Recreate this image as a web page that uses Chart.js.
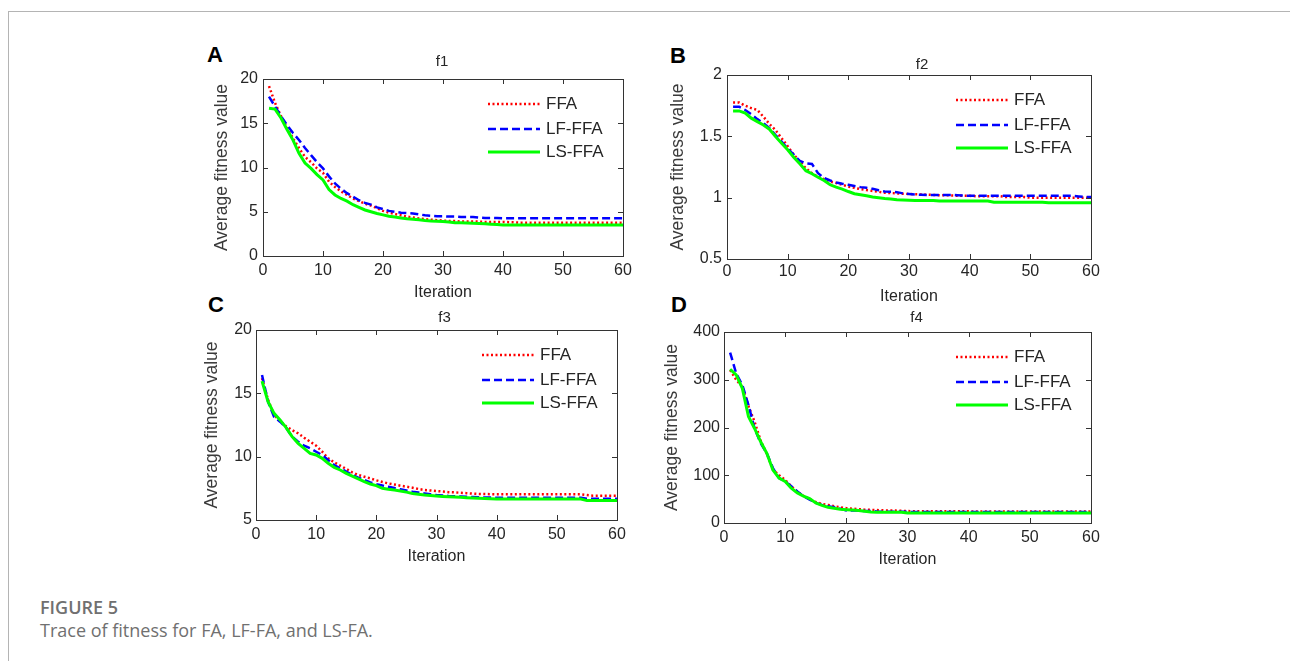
<!DOCTYPE html>
<html>
<head>
<meta charset="utf-8">
<script src="https://cdn.jsdelivr.net/npm/chart.js@4.4.1/dist/chart.umd.min.js"></script>
<style>
  body { margin: 0; background: #fff; }
  #page { position: relative; width: 1290px; height: 661px; overflow: hidden; background: #fff; }
  .frame { position: absolute; left: 8px; top: 11px; right: 0; bottom: 0; border-top: 1px solid #b4b4b4; border-left: 1px solid #b4b4b4; }
  canvas { position: absolute; }
  .letter { position: absolute; font: bold 22px 'Liberation Sans', Arial, sans-serif; line-height: 22px; color: #000; }
  .fig { position: absolute; left: 40px; top: 595px; font: 600 18px 'Open Sans', sans-serif; line-height: 24px; color: #707070; }
  .cap { position: absolute; left: 40px; top: 618px; font: 18px 'Open Sans', sans-serif; line-height: 24px; color: #707070; }
</style>
</head>
<body>
<div id="page">
  <div class="frame"></div>
  <div class="letter" style="left:207px;top:44px">A</div>
  <div class="letter" style="left:670px;top:45px">B</div>
  <div class="letter" style="left:208px;top:294px">C</div>
  <div class="letter" style="left:671px;top:294px">D</div>
  <canvas id="chartA"></canvas>
  <canvas id="chartB"></canvas>
  <canvas id="chartC"></canvas>
  <canvas id="chartD"></canvas>
  <div class="fig">FIGURE 5</div>
  <div class="cap">Trace of fitness for FA, LF-FA, and LS-FA.</div>
</div>
<script>
// iteration numbers 1..60 on the x axis
const iterations = Array.from({length: 60}, (_, i) => i + 1);
const seriesNames = ['FFA', 'LF-FFA', 'LS-FFA'];
const xTickValues = [0, 10, 20, 30, 40, 50, 60];

// f1
const f1FFA = [19.2, 17.3, 15.8, 14.5, 13.3, 12.2, 11.2, 10.6, 9.9, 9.4,
  8.4, 7.8, 7.3, 6.9, 6.5, 6.2, 5.9, 5.7, 5.4, 5.1,
  4.9, 4.75, 4.6, 4.45, 4.35, 4.25, 4.15, 4.1, 4.05, 4.0,
  3.95, 3.95, 3.9, 3.9, 3.9, 3.88, 3.85, 3.85, 3.85, 3.85,
  3.82, 3.8, 3.77, 3.77, 3.77, 3.77, 3.77, 3.77, 3.77, 3.77,
  3.77, 3.77, 3.77, 3.77, 3.77, 3.77, 3.77, 3.77, 3.77, 3.77];
const f1LF = [18.0, 16.9, 15.8, 14.8, 13.9, 13.1, 12.2, 11.4, 10.6, 9.9,
  9.0, 8.2, 7.6, 7.1, 6.7, 6.3, 6.0, 5.8, 5.5, 5.3,
  5.1, 5.0, 4.9, 4.85, 4.8, 4.7, 4.6, 4.55, 4.5, 4.5,
  4.45, 4.45, 4.4, 4.4, 4.4, 4.35, 4.3, 4.3, 4.28, 4.26,
  4.26, 4.26, 4.26, 4.26, 4.26, 4.26, 4.26, 4.26, 4.26, 4.26,
  4.26, 4.26, 4.26, 4.26, 4.26, 4.26, 4.26, 4.26, 4.26, 4.26];
const f1LS = [16.7, 16.6, 15.6, 14.3, 13.1, 11.6, 10.5, 9.9, 9.2, 8.6,
  7.5, 6.9, 6.5, 6.2, 5.8, 5.5, 5.2, 5.0, 4.8, 4.65,
  4.5, 4.4, 4.3, 4.2, 4.15, 4.1, 4.0, 3.95, 3.92, 3.9,
  3.85, 3.77, 3.75, 3.72, 3.7, 3.68, 3.65, 3.6, 3.55, 3.5,
  3.5, 3.5, 3.5, 3.5, 3.5, 3.5, 3.5, 3.5, 3.5, 3.5,
  3.5, 3.5, 3.5, 3.5, 3.5, 3.5, 3.5, 3.5, 3.5, 3.5];

// f2
const f2FFA = [1.775, 1.775, 1.75, 1.73, 1.715, 1.66, 1.60, 1.55, 1.485, 1.42,
  1.35, 1.295, 1.24, 1.2, 1.17, 1.15, 1.13, 1.12, 1.105, 1.09,
  1.08, 1.07, 1.062, 1.055, 1.048, 1.04, 1.038, 1.035, 1.032, 1.03,
  1.028, 1.026, 1.024, 1.022, 1.02, 1.02, 1.018, 1.016, 1.015, 1.015,
  1.012, 1.012, 1.012, 1.012, 1.012, 1.005, 1.005, 1.005, 1.005, 1.0,
  1.0, 1.0, 1.0, 1.0, 1.0, 1.0, 1.0, 1.0, 1.0, 1.0];
const f2LF = [1.742, 1.742, 1.715, 1.68, 1.64, 1.607, 1.566, 1.51, 1.458, 1.40,
  1.35, 1.30, 1.28, 1.275, 1.2, 1.16, 1.14, 1.124, 1.113, 1.105,
  1.095, 1.086, 1.08, 1.072, 1.06, 1.05, 1.048, 1.045, 1.035, 1.03,
  1.026, 1.024, 1.022, 1.022, 1.022, 1.022, 1.022, 1.02, 1.018, 1.015,
  1.015, 1.015, 1.015, 1.015, 1.015, 1.015, 1.015, 1.015, 1.015, 1.015,
  1.015, 1.015, 1.015, 1.015, 1.015, 1.015, 1.015, 1.01, 1.005, 1.005];
const f2LS = [1.707, 1.707, 1.69, 1.648, 1.62, 1.593, 1.558, 1.498, 1.444, 1.39,
  1.33, 1.276, 1.22, 1.195, 1.167, 1.14, 1.105, 1.086, 1.07, 1.05,
  1.032, 1.024, 1.015, 1.005, 1.0, 0.994, 0.99, 0.983, 0.98, 0.978,
  0.976, 0.976, 0.976, 0.976, 0.972, 0.972, 0.972, 0.972, 0.972, 0.972,
  0.972, 0.972, 0.972, 0.962, 0.962, 0.962, 0.962, 0.962, 0.962, 0.962,
  0.962, 0.962, 0.958, 0.958, 0.958, 0.958, 0.958, 0.958, 0.958, 0.958];

// f3
const f3FFA = [16.2, 14.5, 13.3, 12.8, 12.4, 12.1, 11.84, 11.5, 11.18, 10.87,
  10.39, 9.87, 9.55, 9.29, 9.03, 8.76, 8.55, 8.42, 8.29, 8.13,
  8.0, 7.89, 7.8, 7.71, 7.63, 7.55, 7.45, 7.37, 7.33, 7.29,
  7.25, 7.2, 7.18, 7.15, 7.12, 7.08, 7.06, 7.05, 7.04, 7.03,
  7.03, 7.03, 7.03, 7.03, 7.03, 7.03, 7.03, 7.03, 7.03, 7.03,
  7.03, 7.03, 7.03, 7.03, 6.97, 6.92, 6.92, 6.92, 6.92, 6.92];
const f3LF = [16.45, 14.34, 13.16, 12.76, 12.29, 11.58, 11.18, 10.87, 10.66, 10.39,
  10.13, 9.74, 9.34, 9.08, 8.82, 8.55, 8.34, 8.16, 7.97, 7.82,
  7.72, 7.63, 7.52, 7.42, 7.33, 7.24, 7.17, 7.1, 7.03, 6.97,
  6.94, 6.9, 6.88, 6.86, 6.84, 6.82, 6.8, 6.78, 6.77, 6.76,
  6.76, 6.76, 6.76, 6.76, 6.76, 6.76, 6.76, 6.76, 6.76, 6.76,
  6.76, 6.76, 6.76, 6.76, 6.68, 6.68, 6.68, 6.68, 6.68, 6.68];
const f3LS = [15.97, 14.34, 13.42, 12.9, 12.29, 11.58, 11.05, 10.66, 10.26, 10.13,
  9.87, 9.47, 9.16, 8.95, 8.68, 8.47, 8.24, 8.03, 7.84, 7.71,
  7.5, 7.42, 7.36, 7.29, 7.2, 7.1, 7.03, 6.97, 6.93, 6.89,
  6.86, 6.84, 6.82, 6.79, 6.76, 6.74, 6.72, 6.7, 6.68, 6.66,
  6.66, 6.66, 6.66, 6.66, 6.66, 6.66, 6.66, 6.66, 6.66, 6.66,
  6.66, 6.66, 6.66, 6.66, 6.53, 6.53, 6.53, 6.53, 6.53, 6.53];

// f4
const f4FFA = [320, 300, 285, 245, 212, 172, 145, 112, 100, 90,
  77, 65, 57, 50, 44, 40, 38, 35, 33, 31,
  30, 29, 28, 27.5, 27, 26.5, 26, 26, 25.5, 25,
  24.5, 24.5, 24.5, 24.5, 24.5, 24.5, 24.5, 24.5, 24.5, 24.5,
  24, 24, 24, 24, 24, 24, 24, 24, 24, 24,
  24, 24, 24, 24, 24, 24, 24, 24, 24, 24];
const f4LF = [357, 313, 289, 247, 198, 167, 146, 115, 94, 87,
  77, 66, 56, 49, 42, 38, 35, 33, 30, 26,
  26, 26, 25, 25, 24, 23.5, 23.5, 23.5, 23.5, 23.5,
  23, 23, 23, 23, 23, 23, 23, 23, 23, 23,
  23, 23, 23, 23, 23, 23, 23, 23, 23, 23,
  23, 23, 23, 23, 23, 23, 23, 23, 23, 23];
const f4LS = [322, 310, 282, 223, 198, 170, 146, 111, 94, 87,
  73, 63, 56, 51, 42, 37, 33, 31, 29, 28,
  27, 26, 24.5, 23, 22.5, 22.5, 22.5, 22.5, 22.5, 21,
  21, 21, 21, 21, 21, 21, 21, 21, 21, 21,
  21, 21, 21, 21, 21, 21, 21, 21, 21, 21,
  21, 21, 21, 21, 21, 21, 21, 21, 21, 21];

const FONT = "'Liberation Sans', Arial, sans-serif";
const TEXT = '#262626';

// box with inward ticks, panel title and a MATLAB style legend
const matlabBox = {
  id: 'matlabBox',
  afterDatasetsDraw(chart, args, opts) {
    const {ctx, chartArea: a, scales: {x, y}} = chart;
    ctx.save();
    ctx.strokeStyle = '#333';
    ctx.lineWidth = 1;
    ctx.setLineDash([]);
    ctx.strokeRect(Math.round(a.left) + 0.5, Math.round(a.top) + 0.5,
      Math.round(a.right - a.left), Math.round(a.bottom - a.top));
    ctx.beginPath();
    x.ticks.forEach(t => {
      const px = Math.round(x.getPixelForValue(t.value)) + 0.5;
      ctx.moveTo(px, a.bottom); ctx.lineTo(px, a.bottom - 5);
      ctx.moveTo(px, a.top); ctx.lineTo(px, a.top + 5);
    });
    y.ticks.forEach(t => {
      const py = Math.round(y.getPixelForValue(t.value)) + 0.5;
      ctx.moveTo(a.left, py); ctx.lineTo(a.left + 5, py);
      ctx.moveTo(a.right, py); ctx.lineTo(a.right - 5, py);
    });
    ctx.stroke();

    // panel title, centred over the plot
    ctx.fillStyle = TEXT;
    ctx.font = '15px ' + FONT;
    ctx.textAlign = 'center';
    ctx.textBaseline = 'middle';
    ctx.fillText(opts.text, (a.left + a.right) / 2 + opts.dx, a.top - opts.gap);

    const rows = [25, 50, 73];
    chart.data.datasets.forEach((ds, i) => {
      const ly = a.top + rows[i];
      ctx.strokeStyle = ds.borderColor;
      ctx.lineWidth = ds.borderWidth;
      ctx.setLineDash(ds.borderDash || []);
      ctx.beginPath();
      ctx.moveTo(a.right - 135, ly);
      ctx.lineTo(a.right - 83, ly);
      ctx.stroke();
      ctx.setLineDash([]);
      ctx.fillStyle = TEXT;
      ctx.font = '17px ' + FONT;
      ctx.textAlign = 'left';
      ctx.fillText(ds.label, a.right - 77, ly);
    });
    ctx.restore();
  }
};

function makePanel(id, p) {
  const cv = document.getElementById(id);
  const w = (p.R - p.L) + 100, h = (p.B - p.T) + 90;
  cv.width = w; cv.height = h;
  cv.style.left = (p.L - 80) + 'px';
  cv.style.top = (p.T - 40) + 'px';
  cv.style.width = w + 'px';
  cv.style.height = h + 'px';
  new Chart(cv.getContext('2d'), {
    type: 'line',
    data: {
      labels: iterations,
      datasets: [
        {label: seriesNames[0], data: p.values[0], borderColor: '#ff0000', borderWidth: 2.5, borderDash: [2, 2.5], order: 2},
        {label: seriesNames[1], data: p.values[1], borderColor: '#0000ff', borderWidth: 2.5, borderDash: [8, 4], order: 1},
        {label: seriesNames[2], data: p.values[2], borderColor: '#00ff00', borderWidth: 3, order: 0}
      ]
    },
    options: {
      responsive: false,
      animation: false,
      devicePixelRatio: 1,
      layout: {padding: {top: 40, left: 0, right: 20, bottom: 0}},
      elements: {point: {radius: 0}, line: {tension: 0, fill: false}},
      scales: {
        x: {
          type: 'linear', min: 0, max: 60,
          afterBuildTicks: s => { s.ticks = xTickValues.map(v => ({value: v})); },
          afterFit: s => { s.height = 50; },
          grid: {display: false, drawTicks: false},
          border: {display: false},
          ticks: {color: TEXT, padding: p.xTickPad, font: {family: FONT, size: 16}, maxRotation: 0},
          title: {display: true, text: 'Iteration', color: TEXT, padding: p.xTitlePad, font: {family: FONT, size: 16}}
        },
        y: {
          min: p.yMin, max: p.yMax,
          ticks: {stepSize: p.yStep, color: TEXT, padding: p.yTickPad, font: {family: FONT, size: 16},
            callback: v => String(Math.round(v * 100) / 100)},
          afterFit: s => { s.width = 80; },
          grid: {display: false, drawTicks: false},
          border: {display: false},
          title: {display: true, text: 'Average fitness value', color: '#3a3a3a', padding: 80 - p.yTitleGap - 10.5, font: {family: FONT, size: 17.5}}
        }
      },
      plugins: {
        legend: {display: false},
        tooltip: {enabled: false},
        title: {display: false},
        matlabBox: {text: p.title, gap: p.titleGap, dx: p.titleDx}
      }
    },
    plugins: [matlabBox]
  });
}

makePanel('chartA', {L: 263, T: 79, R: 623, B: 256, title: 'f1', titleGap: 17, titleDx: -1, yTitleGap: 41,
  xTickPad: 5, xTitlePad: 3.4, yTickPad: 5, yMin: 0, yMax: 20, yStep: 5, values: [f1FFA, f1LF, f1LS]});
makePanel('chartB', {L: 727, T: 75, R: 1091, B: 259, title: 'f2', titleGap: 10, titleDx: 13, yTitleGap: 49,
  xTickPad: 3, xTitlePad: 2.4, yTickPad: 5, yMin: 0.5, yMax: 2, yStep: 0.5, values: [f2FFA, f2LF, f2LS]});
makePanel('chartC', {L: 256, T: 330, R: 617, B: 520, title: 'f3', titleGap: 12, titleDx: 8, yTitleGap: 44,
  xTickPad: 5, xTitlePad: 3.4, yTickPad: 4, yMin: 5, yMax: 20, yStep: 5, values: [f3FFA, f3LF, f3LS]});
makePanel('chartD', {L: 724, T: 332, R: 1091, B: 523, title: 'f4', titleGap: 14, titleDx: 9, yTitleGap: 52,
  xTickPad: 5, xTitlePad: 3.4, yTickPad: 4, yMin: 0, yMax: 400, yStep: 100, values: [f4FFA, f4LF, f4LS]});
</script>
</body>
</html>
